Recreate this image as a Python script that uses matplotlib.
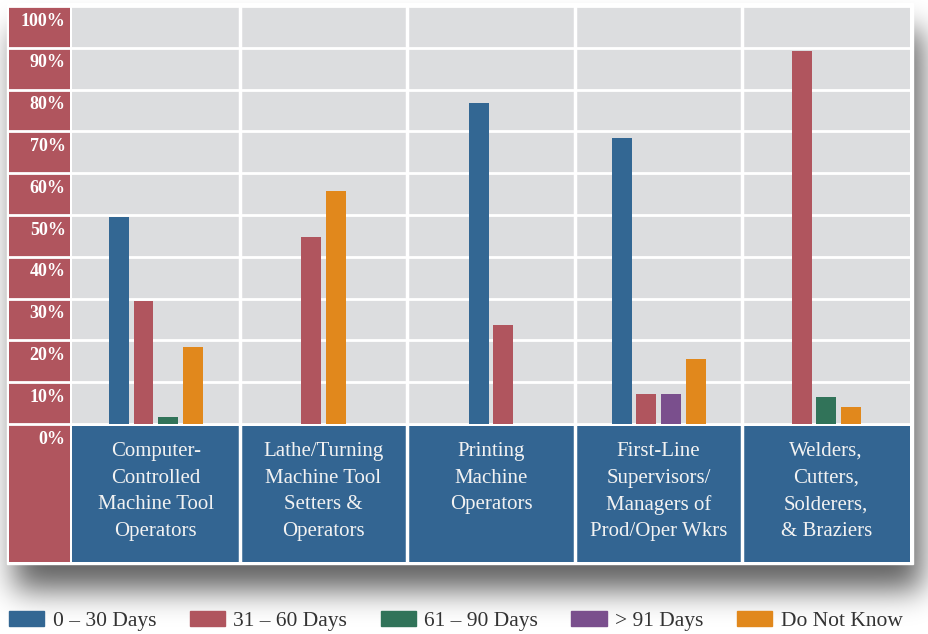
import numpy as np
import matplotlib.pyplot as plt
from matplotlib.patches import Patch, Rectangle

plt.rcParams['font.family'] = ['Liberation Serif', 'DejaVu Serif']

# data (percent)
categories = [['Computer-', 'Controlled', 'Machine Tool', 'Operators'],
              ['Lathe/Turning', 'Machine Tool', 'Setters &', 'Operators'],
              ['Printing', 'Machine', 'Operators'],
              ['First-Line', 'Supervisors/', 'Managers of', 'Prod/Oper Wkrs'],
              ['Welders,', 'Cutters,', 'Solderers,', '& Braziers']]
series_names = ['0 – 30 Days', '31 – 60 Days', '61 – 90 Days', '> 91 Days', 'Do Not Know']
days_0_30 = [49.6, 0, 76.8, 68.4, 0]
days_31_60 = [29.4, 44.7, 23.7, 7.2, 89.2]
days_61_90 = [1.7, 0, 0, 0, 6.5]
days_91_up = [0, 0, 0, 7.2, 0]
do_not_know = [18.4, 55.7, 0, 15.6, 4.1]
yticks = [0, 10, 20, 30, 40, 50, 60, 70, 80, 90, 100]

colors = ['#336793', '#B0555E', '#317359', '#7A4F8D', '#E1881C']
gray = '#DCDDDF'
red = '#B0555E'
blue = '#336592'

W, H = 929, 634
fig = plt.figure(figsize=(W / 100, H / 100), dpi=100)
fig.patch.set_facecolor('white')


def px_axes(x0, y0, x1, y1):
    return fig.add_axes([x0 / W, 1 - y1 / H, (x1 - x0) / W, (y1 - y0) / H])


# background + drop shadow
bg = px_axes(0, 0, W, H)
bg.set_xlim(0, W)
bg.set_ylim(H, 0)
bg.axis('off')
mask = np.zeros((H, W))
mask[30:590, 14:922] = 1.0
k = np.exp(-0.5 * (np.arange(-50, 51) / 15.0) ** 2)
k /= k.sum()
for i in range(H):
    mask[i] = np.convolve(mask[i], k, mode='same')
for j in range(W):
    mask[:, j] = np.convolve(mask[:, j], k, mode='same')
shadow = np.zeros((H, W, 4))
shadow[..., 3] = mask * 0.62
bg.imshow(shadow, extent=(0, W, H, 0), aspect='auto', interpolation='bilinear')
bg.add_patch(Rectangle((7, 3), 906, 561, color='white'))

# red y-axis column
ax_y = px_axes(9, 6, 70, 562)
ax_y.set_facecolor(red)
ax_y.set_xlim(0, 1)
ax_y.set_ylim(-33, 100)
for s in ax_y.spines.values():
    s.set_visible(False)
ax_y.set_xticks([])
ax_y.set_yticks([])
for v in yticks:
    ax_y.axhline(v, color='white', lw=2, clip_on=False)
    ax_y.text(0.93, v - 3.6, f'{v}%', ha='right', va='center', color='white',
              fontsize=13, fontweight='bold')

# main plot
ax = px_axes(72, 6, 910, 424)
ax.set_facecolor(gray)
ax.set_xlim(-0.5, 4.5)
ax.set_ylim(0, 100)
for s in ax.spines.values():
    s.set_visible(False)
ax.set_xticks([])
ax.set_yticks([])
for v in yticks:
    ax.axhline(v, color='white', lw=2, clip_on=False, zorder=1)
for b in [0.5, 1.5, 2.5, 3.5]:
    ax.axvline(b, color='white', lw=2.5, zorder=1)

series = [days_0_30, days_31_60, days_61_90, days_91_up, do_not_know]
slot = 0.147
bw = 0.119
for i in range(len(categories)):
    present = [s for s in range(len(series)) if series[s][i] > 0]
    n = len(present)
    for j, s in enumerate(present):
        x = i + (j - (n - 1) / 2) * slot
        ax.bar(x, series[s][i], width=bw, color=colors[s], zorder=2)

# category label boxes
ax_c = px_axes(72, 426, 910, 562)
ax_c.set_xlim(-0.5, 4.5)
ax_c.set_ylim(562, 426)
ax_c.axis('off')
ax_c.bar(range(len(categories)), [136] * len(categories), width=1, bottom=426, color=blue)
for b in [0.5, 1.5, 2.5, 3.5]:
    ax_c.axvline(b, color='white', lw=2.5)
for i, lines in enumerate(categories):
    for n, line in enumerate(lines):
        ax_c.text(i, 449 + n * 26.6, line, ha='center', va='center_baseline',
                  color='#F2F2F2', fontsize=15)

handles = [Patch(color=c) for c in colors]
fig.legend(handles, series_names, loc='center left', bbox_to_anchor=(9 / W, 1 - 621 / H),
           ncol=5, frameon=False, fontsize=15.5, handlelength=1.63, handleheight=0.66,
           handletextpad=0.4, columnspacing=1.55, borderpad=0, borderaxespad=0,
           labelcolor='#333333')

fig.savefig('out.png', dpi=100)
